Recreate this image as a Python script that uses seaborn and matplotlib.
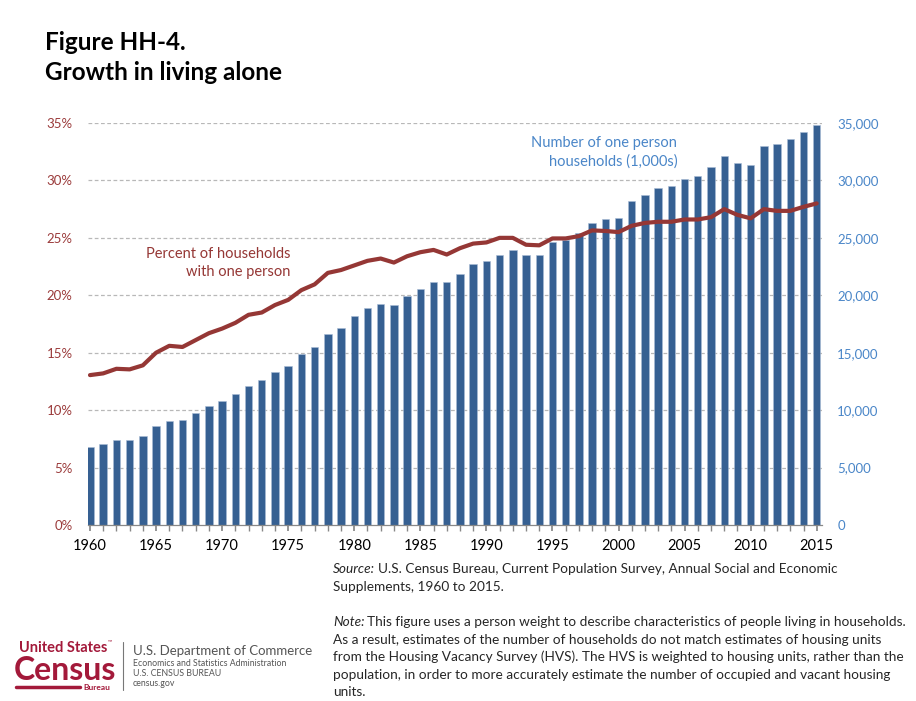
import matplotlib
matplotlib.use("Agg")
import matplotlib.pyplot as plt
import matplotlib.ticker as mticker
import numpy as np
import pandas as pd
import seaborn as sns

years = list(range(1960, 2016))

# one person households, in thousands
households_1000s = [
    6820, 7020, 7400, 7400, 7750, 8620, 9050, 9140, 9720, 10400,
    10820, 11370, 12100, 12590, 13300, 13870, 14910, 15470, 16650, 17120,
    18220, 18890, 19260, 19150, 19900, 20540, 21120, 21120, 21850, 22690,
    22980, 23530, 23900, 23530, 23530, 24630, 24800, 25390, 26260, 26600,
    26690, 28170, 28720, 29360, 29530, 30110, 30370, 31130, 32140, 31560,
    31300, 32980, 33160, 33570, 34200, 34840,
]

# percent of households with one person
pct_one_person = [
    13.05, 13.2, 13.6, 13.55, 13.9, 15.0, 15.6, 15.5, 16.1, 16.7,
    17.1, 17.6, 18.3, 18.5, 19.15, 19.6, 20.45, 20.95, 21.95, 22.2,
    22.6, 23.0, 23.2, 22.85, 23.4, 23.75, 23.95, 23.55, 24.1, 24.5,
    24.6, 25.0, 25.0, 24.4, 24.35, 24.95, 24.95, 25.15, 25.65, 25.6,
    25.5, 26.05, 26.3, 26.4, 26.4, 26.6, 26.6, 26.8, 27.5, 27.0,
    26.7, 27.5, 27.35, 27.35, 27.7, 28.0,
]

year_ticks = [1960, 1965, 1970, 1975, 1980, 1985, 1990, 1995, 2000, 2005, 2010, 2015]
pct_ticks = [0, 5, 10, 15, 20, 25, 30, 35]
count_ticks = [0, 5000, 10000, 15000, 20000, 25000, 30000, 35000]

BAR_BLUE = "#366092"
LINE_RED = "#953735"
LABEL_RED = "#9B3B3B"
LABEL_BLUE = "#4A86C8"
CENSUS_RED = "#A3193A"

sns.set_theme(style="white")
plt.rcParams["font.family"] = ["Lato", "DejaVu Sans"]

df = pd.DataFrame({"year": years, "households": households_1000s, "pct": pct_one_person})

fig = plt.figure(figsize=(9.16, 7.01), dpi=100)
ax = fig.add_axes([88 / 916, 1 - 525 / 701, (822 - 88) / 916, (525 - 123) / 701])

sns.barplot(data=df, x="year", y="households", native_scale=True, color=BAR_BLUE,
            width=0.56, saturation=1, edgecolor="#a9bcd6", linewidth=0.4, ax=ax, zorder=2)
ax.set_ylim(0, 35000)
ax.set_xlim(1959.85, 2015.4)

ax2 = ax.twinx()
sns.lineplot(data=df, x="year", y="pct", color=LINE_RED, linewidth=3.0, ax=ax2, zorder=3)
ax2.set_ylim(0, 35)
ax2.set_xlim(1959.85, 2015.4)

# gridlines (drawn on the bar axes, behind bars)
for v in count_ticks[1:]:
    ax.axhline(v, color="#b8b8b8", linestyle=(0, (3, 2)), linewidth=0.9, zorder=1)

# counts on the right side
ax.yaxis.tick_right()
ax.set_yticks(count_ticks)
ax.yaxis.set_major_formatter(mticker.FuncFormatter(lambda v, p: f"{int(v):,}"))
ax.tick_params(axis="y", length=0, pad=11, labelsize=9.5, labelcolor=LABEL_BLUE)

# percents on the left side
ax2.yaxis.tick_left()
ax2.set_yticks(pct_ticks)
ax2.set_yticklabels([f"{t}%" for t in pct_ticks])
ax2.tick_params(axis="y", length=0, pad=11, labelsize=9.5, labelcolor=LABEL_RED)

ax.set_xticks(year_ticks)
ax.set_xticklabels([str(y) for y in year_ticks])
ax.set_xticks(years, minor=True)
ax.tick_params(axis="x", which="major", length=4, color="#888888", pad=6, labelsize=10.5,
               labelcolor="black", direction="out", bottom=True)
ax.tick_params(axis="x", which="minor", length=4, color="#888888", direction="out", bottom=True)

for a in (ax, ax2):
    a.set_xlabel("")
    a.set_ylabel("")
    for side in ("top", "left", "right"):
        a.spines[side].set_visible(False)
ax2.spines["bottom"].set_visible(False)
ax.spines["bottom"].set_color("#888888")
ax.spines["bottom"].set_linewidth(0.9)

# series annotations
ax2.text(1975.15, 22.8, "Percent of households\nwith one person", color=LINE_RED,
         fontsize=10.5, ha="right", va="center", linespacing=1.35)
ax.text(2004.45, 32420, "Number of one person\nhouseholds (1,000s)", color=LABEL_BLUE,
        fontsize=10.5, ha="right", va="center", linespacing=1.35)

# titles
fig.text(45 / 916, 1 - 50 / 701, "Figure HH-4.", fontsize=17.5, fontweight="bold", color="black")
fig.text(45 / 916, 1 - 80 / 701, "Growth in living alone", fontsize=17.5, fontweight="bold", color="black")

# source and note
FS = 9.8
src_x = 333 / 916
fig.text(src_x, 1 - 573 / 701, "Source:", fontsize=FS, style="italic")
fig.text(src_x + 45 / 916, 1 - 573 / 701,
         "U.S. Census Bureau, Current Population Survey, Annual Social and Economic",
         fontsize=FS)
fig.text(src_x, 1 - 591 / 701, "Supplements, 1960 to 2015.", fontsize=FS)

note_lines = [
    "This figure uses a person weight to describe characteristics of people living in households.",
    "As a result, estimates of the number of households do not match estimates of housing units",
    "from the Housing Vacancy Survey (HVS). The HVS is weighted to housing units, rather than the",
    "population, in order to more accurately estimate the number of occupied and vacant housing",
    "units.",
]
fig.text(src_x, 1 - 626 / 701, "Note:", fontsize=FS, style="italic")
fig.text(src_x + 34 / 916, 1 - 626 / 701, note_lines[0], fontsize=FS)
for i, line in enumerate(note_lines[1:], start=1):
    fig.text(src_x, 1 - (626 + 17.6 * i) / 701, line, fontsize=FS)

# census logo, built from text
fig.text(19 / 916, 1 - 652 / 701, "United States", fontsize=10.5, fontweight="bold", color=CENSUS_RED)
fig.text(108 / 916, 1 - 643 / 701, "\u2122", fontsize=4, color=CENSUS_RED)
fig.text(14 / 916, 1 - 680 / 701, "Census", fontsize=23, fontweight="bold", color=CENSUS_RED)
fig.add_artist(plt.Line2D([16 / 916, 80 / 916], [1 - 687 / 701, 1 - 687 / 701],
                          color=CENSUS_RED, linewidth=2.5, solid_capstyle="round"))
fig.text(83 / 916, 1 - 690 / 701, "Bureau", fontsize=6, fontweight="bold", color=CENSUS_RED)
fig.add_artist(plt.Line2D([123 / 916, 123 / 916], [1 - 642 / 701, 1 - 690 / 701],
                          color="#777777", linewidth=0.8))
fig.text(133 / 916, 1 - 655 / 701, "U.S. Department of Commerce", fontsize=9.5, color="#555555")
fig.text(133 / 916, 1 - 666 / 701, "Economics and Statistics Administration", fontsize=6.3, color="#555555")
fig.text(133 / 916, 1 - 676 / 701, "U.S. CENSUS BUREAU", fontsize=6.3, color="#555555")
fig.text(133 / 916, 1 - 686 / 701, "census.gov", fontsize=6.3, color="#555555")

fig.savefig("out.png", dpi=100, facecolor="white")
